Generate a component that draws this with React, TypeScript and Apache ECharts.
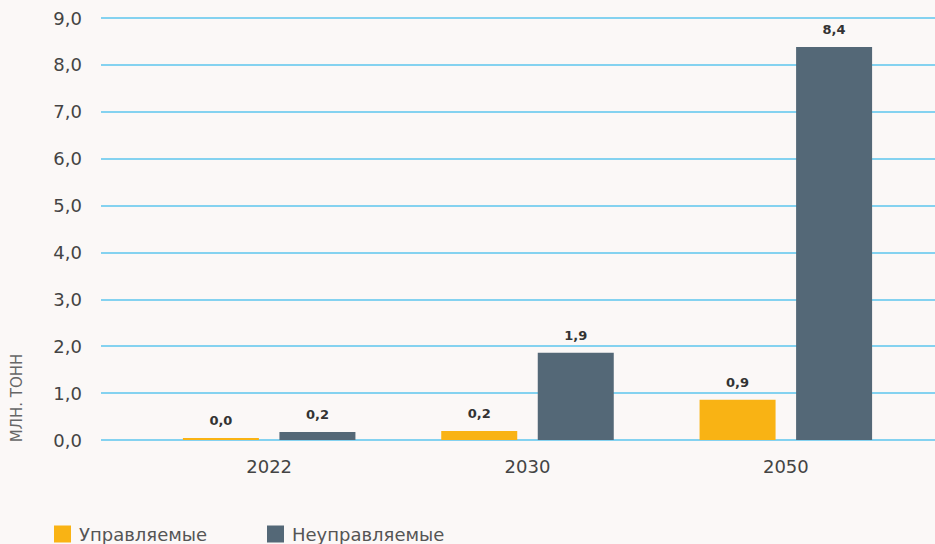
import React, { useEffect, useRef } from "react";
import * as echarts from "echarts";

const categories = ["2022", "2030", "2050"];
const managed = [0.04, 0.19, 0.86];
const unmanaged = [0.17, 1.86, 8.38];
const seriesNames = ["Управляемые", "Неуправляемые"];
const yTicks = { min: 0, max: 9, interval: 1 };
const axisTitle = "МЛН. ТОНН";

const FONT = "'DejaVu Sans', sans-serif";
const GRID_COLOR = "#84d2f0";

export default function App() {
  const ref = useRef<HTMLDivElement>(null);
  useEffect(() => {
    document.body.style.margin = "0";
    if (!ref.current) return;
    const chart = echarts.init(ref.current, null, { renderer: "svg" });
    const fmt = (p: any) => (Math.round(Number(p.value) * 10) / 10).toFixed(1).replace(".", ",");
    const barLabel = {
      show: true,
      position: "top",
      distance: 11,
      formatter: fmt,
      color: "#333",
      fontWeight: "bold",
      fontSize: 13,
      fontFamily: FONT,
    };
    const legendText = {
      color: "#555",
      fontSize: 18,
      lineHeight: 18,
      fontFamily: FONT,
      padding: [0, 0, 0, 3],
    };
    chart.setOption({
      animation: false,
      backgroundColor: "#fbf8f7",
      grid: [
        { left: 101, right: 0, top: 18, bottom: 104 },
        { left: 140, width: 775, top: 18, bottom: 104 },
      ],
      xAxis: [
        { gridIndex: 0, type: "value", min: 0, max: 1, show: false },
        {
          gridIndex: 1,
          type: "category",
          data: categories,
          axisLine: { show: false },
          axisTick: { show: false },
          axisLabel: { color: "#444", fontSize: 18, fontFamily: FONT, margin: 17 },
        },
      ],
      yAxis: [
        {
          gridIndex: 0,
          type: "value",
          min: yTicks.min,
          max: yTicks.max,
          interval: yTicks.interval,
          axisLine: { show: false },
          axisTick: { show: false },
          splitLine: { lineStyle: { color: GRID_COLOR, width: 2 } },
          axisLabel: {
            color: "#444",
            fontSize: 18,
            fontFamily: FONT,
            margin: 19,
            formatter: (v: number) => v.toFixed(1).replace(".", ","),
          },
        },
        {
          gridIndex: 1,
          type: "value",
          min: yTicks.min,
          max: yTicks.max,
          interval: yTicks.interval,
          show: false,
        },
      ],
      legend: [
        {
          data: [seriesNames[0]],
          left: 54,
          top: 525,
          padding: 0,
          itemWidth: 17,
          itemHeight: 17,
          icon: "rect",
          textStyle: legendText,
        },
        {
          data: [seriesNames[1]],
          left: 267,
          top: 525,
          padding: 0,
          itemWidth: 17,
          itemHeight: 17,
          icon: "rect",
          textStyle: legendText,
        },
      ],
      graphic: [
        {
          type: "text",
          x: 17,
          y: 398,
          rotation: Math.PI / 2,
          style: {
            text: axisTitle,
            fill: "#666",
            fontSize: 15,
            fontFamily: FONT,
            align: "center",
            verticalAlign: "middle",
          },
        },
      ],
      series: [
        {
          name: seriesNames[0],
          type: "bar",
          xAxisIndex: 1,
          yAxisIndex: 1,
          data: managed,
          barWidth: 76,
          barGap: "27%",
          itemStyle: { color: "#f9b314" },
          label: barLabel,
        },
        {
          name: seriesNames[1],
          type: "bar",
          xAxisIndex: 1,
          yAxisIndex: 1,
          data: unmanaged,
          barWidth: 76,
          barGap: "27%",
          itemStyle: { color: "#546877" },
          label: barLabel,
        },
      ],
    });
    return () => chart.dispose();
  }, []);
  return <div ref={ref} style={{ width: 935, height: 544 }} />;
}
